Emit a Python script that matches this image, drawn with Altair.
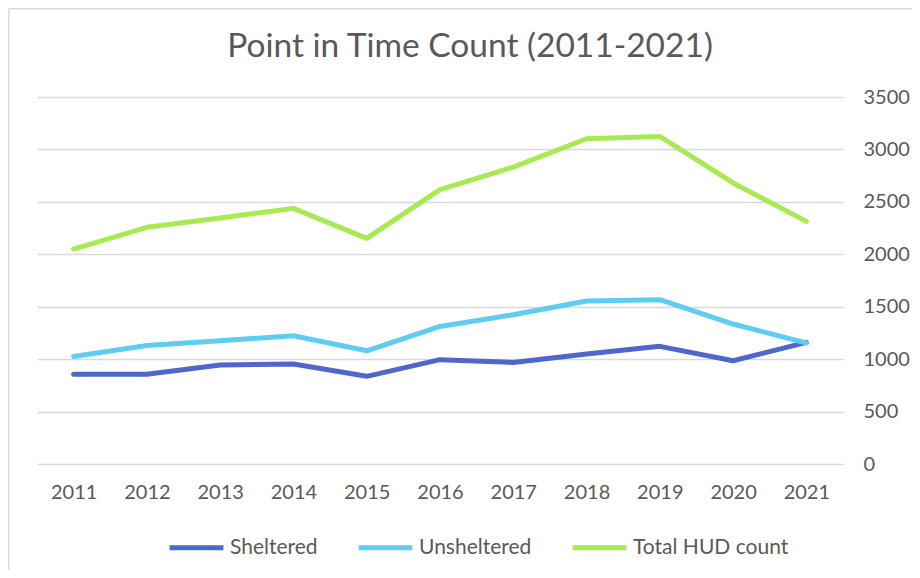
import altair as alt
import pandas as pd

years = ["2011", "2012", "2013", "2014", "2015", "2016", "2017", "2018", "2019", "2020", "2021"]
sheltered = [855, 855, 944, 953, 836, 995, 969, 1049, 1122, 985, 1160]
unsheltered = [1026, 1131, 1176, 1223, 1080, 1312, 1424, 1554, 1567, 1335, 1154]
total_hud = [2050, 2257, 2346, 2438, 2152, 2616, 2832, 3102, 3124, 2680, 2314]
series_names = ["Sheltered", "Unsheltered", "Total HUD count"]
series_colors = ["#4E67C8", "#5ECCF3", "#A7EA52"]
y_ticks = [0, 500, 1000, 1500, 2000, 2500, 3000, 3500]
title_text = "Point in Time Count (2011-2021)"

rows = []
for name, vals in zip(series_names, [sheltered, unsheltered, total_hud]):
    for yr, v in zip(years, vals):
        rows.append({"year": yr, "count": v, "series": name})
df = pd.DataFrame(rows)

FONT = "Lato"
TXT = "#595959"

lines = alt.Chart(df).mark_line(strokeWidth=5, strokeCap="round", strokeJoin="round").encode(
    x=alt.X("year:O", sort=years, scale=alt.Scale(type="point", padding=0.5),
            axis=alt.Axis(title=None, labelAngle=0, ticks=False, tickSize=0, domain=False,
                          grid=False, labelPadding=18, labelFontSize=20,
                          labelFont=FONT, labelColor=TXT)),
    y=alt.Y("count:Q", scale=alt.Scale(domain=[0, 3500], nice=False),
            axis=alt.Axis(title=None, orient="right", values=y_ticks, format="d",
                          ticks=False, tickSize=0,
                          domain=False, grid=True, gridColor="#D9D9D9", gridWidth=1.3,
                          labelPadding=20, labelFontSize=20, labelFont=FONT,
                          labelColor=TXT, labelAlign="left")),
    color=alt.Color("series:N", sort=series_names,
                    scale=alt.Scale(domain=series_names, range=series_colors),
                    legend=alt.Legend(title=None, orient="none", direction="horizontal",
                                      legendX=130, legendY=421, padding=0,
                                      symbolType="stroke", symbolSize=2900,
                                      symbolStrokeWidth=5, labelOffset=4,
                                      columnPadding=30, labelFontSize=21,
                                      labelFont=FONT, labelColor=TXT)),
)

one = pd.DataFrame({"t": [title_text]})
title_mark = alt.Chart(one).mark_text(font=FONT, fontSize=33.5, color=TXT, align="center",
                                      baseline="middle").encode(
    text="t:N", x=alt.value(433), y=alt.value(-50)
)
left_border = alt.Chart(one).mark_rule(color="#D9D9D9", strokeWidth=1.5).encode(
    x=alt.value(-28.2), y=alt.value(-88.2), y2=alt.value(480)
)
top_border = alt.Chart(one).mark_rule(color="#D9D9D9", strokeWidth=1.5).encode(
    x=alt.value(-28.2), x2=alt.value(880), y=alt.value(-88.2)
)

chart = alt.layer(lines, title_mark, left_border, top_border).properties(
    width=806, height=367,
    padding={"left": 29, "top": 89, "right": 69, "bottom": 106},
    autosize=alt.AutoSizeParams(type="none"),
).configure_view(stroke=None)

chart.save("out.html", embed_options={"renderer": "svg", "actions": False})
